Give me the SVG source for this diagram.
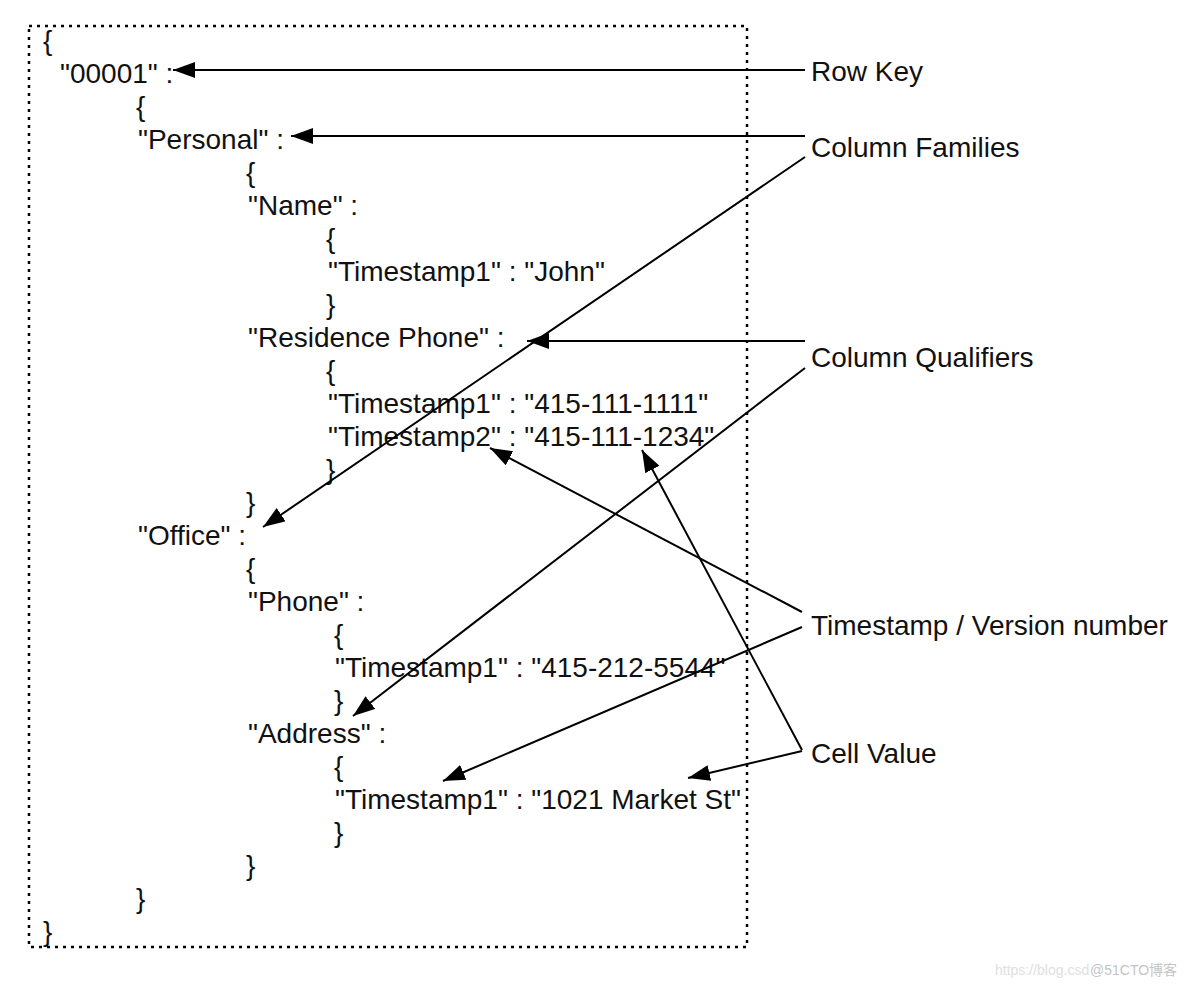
<svg xmlns="http://www.w3.org/2000/svg" width="1184" height="988" viewBox="0 0 1184 988">
<style>
.t{font-family:"Liberation Sans",Arial,sans-serif;font-size:28px;fill:#111}
.c{stroke:#000;stroke-width:2;fill:none;marker-end:url(#ah)}
.wm{font-family:"Liberation Sans","Noto Sans CJK SC",sans-serif;font-size:14px}
</style>
<defs>
<marker id="ah" markerUnits="userSpaceOnUse" markerWidth="24" markerHeight="18" refX="22" refY="8" orient="auto">
<path d="M0,0 L22,8 L0,16 z" fill="#000"/>
</marker>
</defs>
<rect width="1184" height="988" fill="#fff"/>
<rect id="box" x="29" y="26" width="718" height="921" fill="none" stroke="#000" stroke-width="2.5" stroke-dasharray="3 5"/>
<g id="json">
<text class="t" x="43" y="50">{</text>
<text class="t" x="60" y="83">"00001" :</text>
<text class="t" x="136" y="116">{</text>
<text class="t" x="138" y="149">"Personal" :</text>
<text class="t" x="246" y="182">{</text>
<text class="t" x="248" y="215">"Name" :</text>
<text class="t" x="326" y="248">{</text>
<text class="t" x="328" y="281">"Timestamp1" : "John"</text>
<text class="t" x="326" y="314">}</text>
<text class="t" x="248" y="347">"Residence Phone" :</text>
<text class="t" x="326" y="380">{</text>
<text class="t" x="328" y="413">"Timestamp1" : "415-111-1111"</text>
<text class="t" x="328" y="446">"Timestamp2" : "415-111-1234"</text>
<text class="t" x="326" y="479">}</text>
<text class="t" x="246" y="512">}</text>
<text class="t" x="138" y="545">"Office" :</text>
<text class="t" x="246" y="578">{</text>
<text class="t" x="248" y="611">"Phone" :</text>
<text class="t" x="334" y="644">{</text>
<text class="t" x="335" y="677">"Timestamp1" : "415-212-5544"</text>
<text class="t" x="334" y="710">}</text>
<text class="t" x="248" y="743">"Address" :</text>
<text class="t" x="334" y="776">{</text>
<text class="t" x="335" y="809">"Timestamp1" : "1021 Market St"</text>
<text class="t" x="334" y="842">}</text>
<text class="t" x="246" y="875">}</text>
<text class="t" x="136" y="908">}</text>
<text class="t" x="43" y="941">}</text>
</g>
<g id="label-rowkey"><text class="t" x="811" y="81">Row Key</text></g>
<g id="label-cf"><text class="t" x="811" y="157">Column Families</text></g>
<g id="label-cq"><text class="t" x="811" y="367">Column Qualifiers</text></g>
<g id="label-ts"><text class="t" x="811" y="635">Timestamp / Version number</text></g>
<g id="label-cv"><text class="t" x="811" y="763">Cell Value</text></g>
<g id="connectors">
<line class="c" x1="805" y1="70" x2="173" y2="70"/>
<line class="c" x1="805" y1="136" x2="291" y2="136"/>
<line class="c" x1="805" y1="157" x2="263" y2="527"/>
<line class="c" x1="805" y1="341" x2="527" y2="341"/>
<line class="c" x1="805" y1="368" x2="353" y2="716"/>
<line class="c" x1="802" y1="612" x2="490" y2="448"/>
<line class="c" x1="802" y1="627" x2="443" y2="781"/>
<line class="c" x1="802" y1="750" x2="642" y2="450"/>
<line class="c" x1="802" y1="751" x2="688" y2="778"/>
</g>
<g id="watermark">
<text class="wm" x="995" y="975" fill="#e0e0e0">https://blog.csd</text>
<text class="wm" x="1090" y="975" fill="#c4c4c4">@51CTO博客</text>
</g>
</svg>
